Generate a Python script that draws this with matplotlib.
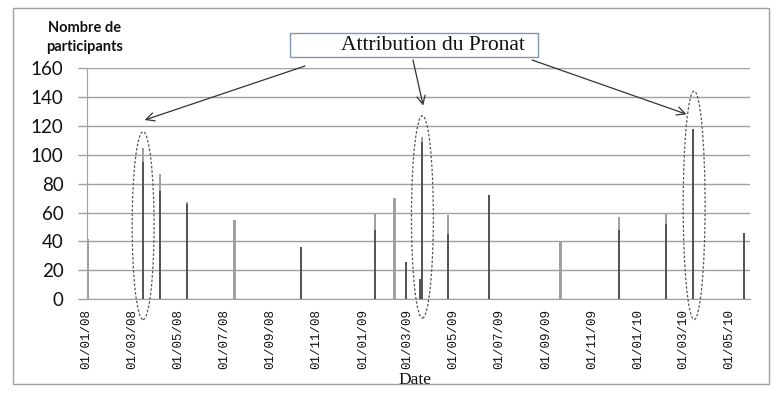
import matplotlib
matplotlib.use("Agg")
import matplotlib.pyplot as plt
import matplotlib.dates as mdates
from matplotlib.patches import Ellipse, Rectangle
import pandas as pd

# ---- data ----
dates = ["2008-01-03", "2008-03-16", "2008-04-07", "2008-05-13", "2008-07-15",
         "2008-10-11", "2009-01-17", "2009-02-12", "2009-02-27", "2009-03-18",
         "2009-03-21", "2009-04-24", "2009-06-17", "2009-09-20", "2009-12-06",
         "2010-02-07", "2010-03-15", "2010-05-21"]
light_vals = [42, 105, 87, 67, 55, 0, 59, 70, 0, 0, 112, 58, 0, 40, 57, 60, 0, 0]
dark_vals = [0, 95, 75, 66, 0, 36, 48, 0, 26, 14, 109, 45, 72, 0, 48, 52, 118, 46]
yticks = [0, 20, 40, 60, 80, 100, 120, 140, 160]
ylabel_text = "Nombre de\nparticipants"
xlabel_text = "Date"
note_text = "Attribution du Pronat"
highlight_dates = ["2008-03-16", "2009-03-21", "2010-03-16"]
highlight_spans = [(-14, 116), (-13, 127), (-14, 144)]
arrow_targets = [("2008-03-18", 124), ("2009-03-22", 134), ("2010-03-06", 128)]

W, H = 780, 399
fig = plt.figure(figsize=(W / 100, H / 100), dpi=100)
fig.patch.set_facecolor("white")

def fx(px):
    return px / W

def fy(py):
    return 1 - py / H

ax = fig.add_axes([fx(86.5), fy(299.3), fx(750) - fx(86.5), fy(68) - fy(299.3)])

d = pd.to_datetime(dates)
ax.bar(d, light_vals, width=2.8, color="#a0a0a0", zorder=3)
ax.bar(d, dark_vals, width=2.4, color="#555555", zorder=4)

ax.set_ylim(0, 160)
ax.set_yticks(yticks)
ax.set_xlim(pd.Timestamp("2008-01-01"), pd.Timestamp("2010-05-29"))
ax.xaxis.set_major_locator(mdates.MonthLocator(bymonth=[1, 3, 5, 7, 9, 11]))
ax.xaxis.set_major_formatter(mdates.DateFormatter("%d/%m/%y"))

ax.grid(axis="y", color="#a0a0a0", lw=1.0, zorder=0)
ax.set_axisbelow(True)
for s in ["top", "right"]:
    ax.spines[s].set_visible(False)
ax.spines["left"].set_color("#a0a0a0")
ax.spines["bottom"].set_color("#a0a0a0")

ax.tick_params(axis="y", length=6.5, width=1, color="#a0a0a0", pad=10,
               labelsize=13.5, labelcolor="#111111")
for lab in ax.get_yticklabels():
    lab.set_fontfamily("Lato")
ax.tick_params(axis="x", length=0, pad=7, labelsize=9, labelrotation=90,
               labelcolor="#111111")
for lab in ax.get_xticklabels():
    lab.set_fontfamily("Liberation Mono")

# x label
fig.text(fx(415), fy(379.5), xlabel_text, ha="center", va="center",
         fontsize=12.5, family="Liberation Serif", color="#111111")
# y label
fig.text(fx(85), fy(37.5), ylabel_text, ha="center", va="center",
         fontsize=10.5, family="Lato", fontweight="bold", color="#111111",
         linespacing=1.5)

# highlight ellipses
for hd, (lo, hi) in zip(highlight_dates, highlight_spans):
    c = mdates.date2num(pd.Timestamp(hd))
    e = Ellipse((c, (lo + hi) / 2), width=29, height=hi - lo, fill=False,
                edgecolor="#555555", lw=0.9, linestyle=(0, (2, 1.5)),
                clip_on=False, zorder=6)
    ax.add_patch(e)

# annotation box
fig.patches.append(Rectangle((fx(290), fy(57)), fx(538) - fx(290), fy(33) - fy(57),
                             transform=fig.transFigure, fill=True, facecolor="white",
                             edgecolor="#8096b0", lw=1.0, zorder=5))
fig.text(fx(433), fy(46), note_text, ha="center", va="center", fontsize=15.5,
         family="Liberation Serif", color="#111111", zorder=6)

starts = [(305, 66), (413, 60), (532, 60)]
for (td, tv), (sx, sy) in zip(arrow_targets, starts):
    ax.annotate("", xy=(pd.Timestamp(td), tv), xycoords="data",
                xytext=(fx(sx), fy(sy)), textcoords="figure fraction",
                arrowprops=dict(arrowstyle="->,head_length=0.6,head_width=0.3",
                                color="#333333", lw=0.9, shrinkA=0, shrinkB=0),
                annotation_clip=False, zorder=7)

# outer border
fig.patches.append(Rectangle((fx(13), fy(384)), fx(769) - fx(13), fy(8) - fy(384),
                             transform=fig.transFigure, fill=False,
                             edgecolor="#a0a0a0", lw=1.0))

fig.savefig("out.png", dpi=100)
